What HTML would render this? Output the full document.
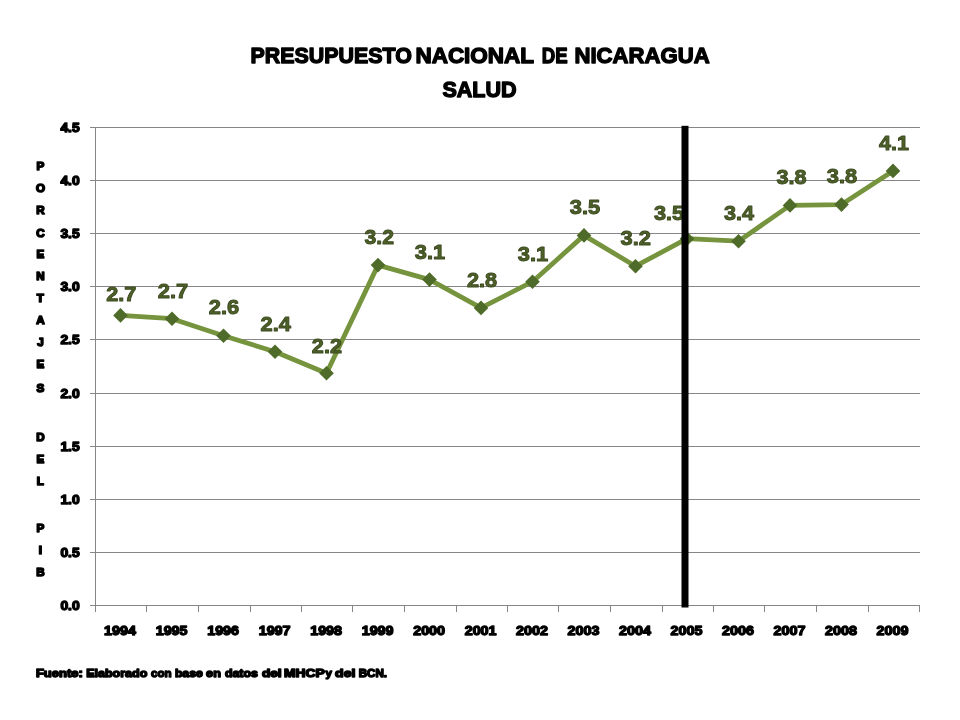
<!DOCTYPE html>
<html lang="es">
<head>
<meta charset="utf-8">
<title>Presupuesto Nacional de Nicaragua - Salud</title>
<style>
html,body{margin:0;padding:0;background:#fff;}
body{width:960px;height:720px;overflow:hidden;font-family:"Liberation Sans",sans-serif;}
svg{display:block;}
text{font-family:"Liberation Sans",sans-serif;font-weight:bold;}
.t{fill:#000;stroke:#000;stroke-width:1.4px;stroke-linejoin:round;}
.f{fill:#000;stroke:#000;stroke-width:1.4px;stroke-linejoin:round;}
.yl{fill:#000;stroke:#000;stroke-width:1.6px;stroke-linejoin:round;}
.ax{fill:#000;stroke:#000;stroke-width:1.3px;stroke-linejoin:round;}
.dl{fill:#4F6228;stroke:#3c4a20;stroke-width:1px;stroke-linejoin:round;}
</style>
</head>
<body>
<svg width="960" height="720" viewBox="0 0 960 720">
<rect x="0" y="0" width="960" height="720" fill="#ffffff"/>
<text class="t" y="63" font-size="22.5"><tspan x="250.5" textLength="161.4" lengthAdjust="spacingAndGlyphs">PRESUPUESTO</tspan> <tspan x="415.4" textLength="118.3" lengthAdjust="spacingAndGlyphs">NACIONAL</tspan> <tspan x="541.7" textLength="25.9" lengthAdjust="spacingAndGlyphs">DE</tspan> <tspan x="574.5" textLength="135.1" lengthAdjust="spacingAndGlyphs">NICARAGUA</tspan></text>
<text class="t" y="97" font-size="22.5"><tspan x="442.4" textLength="74.3" lengthAdjust="spacingAndGlyphs">SALUD</tspan></text>
<g stroke="#868686" stroke-width="1" shape-rendering="crispEdges">
<line x1="90" y1="605.5" x2="920" y2="605.5"/>
<line x1="90" y1="552.5" x2="920" y2="552.5"/>
<line x1="90" y1="499.5" x2="920" y2="499.5"/>
<line x1="90" y1="446.5" x2="920" y2="446.5"/>
<line x1="90" y1="393.5" x2="920" y2="393.5"/>
<line x1="90" y1="339.5" x2="920" y2="339.5"/>
<line x1="90" y1="286.5" x2="920" y2="286.5"/>
<line x1="90" y1="233.5" x2="920" y2="233.5"/>
<line x1="90" y1="180.5" x2="920" y2="180.5"/>
<line x1="90" y1="127.5" x2="920" y2="127.5"/>
<line x1="95.5" y1="127.5" x2="95.5" y2="612"/>
<line x1="146.5" y1="605" x2="146.5" y2="612"/>
<line x1="198.5" y1="605" x2="198.5" y2="612"/>
<line x1="250.5" y1="605" x2="250.5" y2="612"/>
<line x1="301.5" y1="605" x2="301.5" y2="612"/>
<line x1="352.5" y1="605" x2="352.5" y2="612"/>
<line x1="404.5" y1="605" x2="404.5" y2="612"/>
<line x1="456.5" y1="605" x2="456.5" y2="612"/>
<line x1="507.5" y1="605" x2="507.5" y2="612"/>
<line x1="558.5" y1="605" x2="558.5" y2="612"/>
<line x1="610.5" y1="605" x2="610.5" y2="612"/>
<line x1="662.5" y1="605" x2="662.5" y2="612"/>
<line x1="713.5" y1="605" x2="713.5" y2="612"/>
<line x1="764.5" y1="605" x2="764.5" y2="612"/>
<line x1="816.5" y1="605" x2="816.5" y2="612"/>
<line x1="868.5" y1="605" x2="868.5" y2="612"/>
<line x1="919.5" y1="605" x2="919.5" y2="612"/>
</g>
<text class="ax" x="79.7" y="610.0" font-size="12.3" text-anchor="end" textLength="19.3" lengthAdjust="spacingAndGlyphs">0.0</text>
<text class="ax" x="79.7" y="556.9" font-size="12.3" text-anchor="end" textLength="19.3" lengthAdjust="spacingAndGlyphs">0.5</text>
<text class="ax" x="79.7" y="503.8" font-size="12.3" text-anchor="end" textLength="19.3" lengthAdjust="spacingAndGlyphs">1.0</text>
<text class="ax" x="79.7" y="450.7" font-size="12.3" text-anchor="end" textLength="19.3" lengthAdjust="spacingAndGlyphs">1.5</text>
<text class="ax" x="79.7" y="397.6" font-size="12.3" text-anchor="end" textLength="19.3" lengthAdjust="spacingAndGlyphs">2.0</text>
<text class="ax" x="79.7" y="344.4" font-size="12.3" text-anchor="end" textLength="19.3" lengthAdjust="spacingAndGlyphs">2.5</text>
<text class="ax" x="79.7" y="291.3" font-size="12.3" text-anchor="end" textLength="19.3" lengthAdjust="spacingAndGlyphs">3.0</text>
<text class="ax" x="79.7" y="238.2" font-size="12.3" text-anchor="end" textLength="19.3" lengthAdjust="spacingAndGlyphs">3.5</text>
<text class="ax" x="79.7" y="185.1" font-size="12.3" text-anchor="end" textLength="19.3" lengthAdjust="spacingAndGlyphs">4.0</text>
<text class="ax" x="79.7" y="132.0" font-size="12.3" text-anchor="end" textLength="19.3" lengthAdjust="spacingAndGlyphs">4.5</text>
<text class="ax" x="120.0" y="635.3" font-size="12.4" text-anchor="middle" textLength="31.8" lengthAdjust="spacingAndGlyphs">1994</text>
<text class="ax" x="171.6" y="635.3" font-size="12.4" text-anchor="middle" textLength="31.8" lengthAdjust="spacingAndGlyphs">1995</text>
<text class="ax" x="223.1" y="635.3" font-size="12.4" text-anchor="middle" textLength="31.8" lengthAdjust="spacingAndGlyphs">1996</text>
<text class="ax" x="274.6" y="635.3" font-size="12.4" text-anchor="middle" textLength="31.8" lengthAdjust="spacingAndGlyphs">1997</text>
<text class="ax" x="326.1" y="635.3" font-size="12.4" text-anchor="middle" textLength="31.8" lengthAdjust="spacingAndGlyphs">1998</text>
<text class="ax" x="377.6" y="635.3" font-size="12.4" text-anchor="middle" textLength="31.8" lengthAdjust="spacingAndGlyphs">1999</text>
<text class="ax" x="429.1" y="635.3" font-size="12.4" text-anchor="middle" textLength="31.8" lengthAdjust="spacingAndGlyphs">2000</text>
<text class="ax" x="480.6" y="635.3" font-size="12.4" text-anchor="middle" textLength="31.8" lengthAdjust="spacingAndGlyphs">2001</text>
<text class="ax" x="532.0" y="635.3" font-size="12.4" text-anchor="middle" textLength="31.8" lengthAdjust="spacingAndGlyphs">2002</text>
<text class="ax" x="583.5" y="635.3" font-size="12.4" text-anchor="middle" textLength="31.8" lengthAdjust="spacingAndGlyphs">2003</text>
<text class="ax" x="635.0" y="635.3" font-size="12.4" text-anchor="middle" textLength="31.8" lengthAdjust="spacingAndGlyphs">2004</text>
<text class="ax" x="686.5" y="635.3" font-size="12.4" text-anchor="middle" textLength="31.8" lengthAdjust="spacingAndGlyphs">2005</text>
<text class="ax" x="738.0" y="635.3" font-size="12.4" text-anchor="middle" textLength="31.8" lengthAdjust="spacingAndGlyphs">2006</text>
<text class="ax" x="789.5" y="635.3" font-size="12.4" text-anchor="middle" textLength="31.8" lengthAdjust="spacingAndGlyphs">2007</text>
<text class="ax" x="841.0" y="635.3" font-size="12.4" text-anchor="middle" textLength="31.8" lengthAdjust="spacingAndGlyphs">2008</text>
<text class="ax" x="892.5" y="635.3" font-size="12.4" text-anchor="middle" textLength="31.8" lengthAdjust="spacingAndGlyphs">2009</text>
<text class="yl" x="40.4" y="170.0" font-size="11.6" text-anchor="middle">P</text>
<text class="yl" x="40.4" y="192.0" font-size="11.6" text-anchor="middle">O</text>
<text class="yl" x="40.4" y="214.2" font-size="11.6" text-anchor="middle">R</text>
<text class="yl" x="40.4" y="236.5" font-size="11.6" text-anchor="middle">C</text>
<text class="yl" x="40.4" y="257.9" font-size="11.6" text-anchor="middle">E</text>
<text class="yl" x="40.4" y="279.9" font-size="11.6" text-anchor="middle">N</text>
<text class="yl" x="40.4" y="301.9" font-size="11.6" text-anchor="middle">T</text>
<text class="yl" x="40.4" y="323.9" font-size="11.6" text-anchor="middle">A</text>
<text class="yl" x="40.4" y="345.9" font-size="11.6" text-anchor="middle">J</text>
<text class="yl" x="40.4" y="367.9" font-size="11.6" text-anchor="middle">E</text>
<text class="yl" x="40.4" y="391.7" font-size="11.6" text-anchor="middle">S</text>
<text class="yl" x="40.4" y="441.2" font-size="11.6" text-anchor="middle">D</text>
<text class="yl" x="40.4" y="462.9" font-size="11.6" text-anchor="middle">E</text>
<text class="yl" x="40.4" y="484.9" font-size="11.6" text-anchor="middle">L</text>
<text class="yl" x="40.4" y="532.0" font-size="11.6" text-anchor="middle">P</text>
<text class="yl" x="40.4" y="553.9" font-size="11.6" text-anchor="middle">I</text>
<text class="yl" x="40.4" y="576.2" font-size="11.6" text-anchor="middle">B</text>
<polyline points="120.5,315.4 172.0,318.7 223.5,335.7 275.0,351.7 326.5,373.2 378.0,265.1 429.5,279.6 481.0,307.9 532.5,281.7 584.0,235.4 635.5,266.2 687.0,238.7 738.5,241.2 790.0,205.4 841.5,204.6 893.0,170.9" fill="none" stroke="#76933D" stroke-width="4.8" stroke-linejoin="round" stroke-linecap="round"/>
<path d="M120.5 308.1 L127.8 315.4 L120.5 322.7 L113.2 315.4 Z" fill="#4F6B29"/>
<path d="M172.0 311.4 L179.3 318.7 L172.0 326.0 L164.7 318.7 Z" fill="#4F6B29"/>
<path d="M223.5 328.4 L230.8 335.7 L223.5 343.0 L216.2 335.7 Z" fill="#4F6B29"/>
<path d="M275.0 344.4 L282.3 351.7 L275.0 359.0 L267.7 351.7 Z" fill="#4F6B29"/>
<path d="M326.5 365.9 L333.8 373.2 L326.5 380.5 L319.2 373.2 Z" fill="#4F6B29"/>
<path d="M378.0 257.8 L385.3 265.1 L378.0 272.4 L370.7 265.1 Z" fill="#4F6B29"/>
<path d="M429.5 272.3 L436.8 279.6 L429.5 286.9 L422.2 279.6 Z" fill="#4F6B29"/>
<path d="M481.0 300.6 L488.3 307.9 L481.0 315.2 L473.7 307.9 Z" fill="#4F6B29"/>
<path d="M532.5 274.4 L539.8 281.7 L532.5 289.0 L525.2 281.7 Z" fill="#4F6B29"/>
<path d="M584.0 228.1 L591.3 235.4 L584.0 242.7 L576.7 235.4 Z" fill="#4F6B29"/>
<path d="M635.5 258.9 L642.8 266.2 L635.5 273.5 L628.2 266.2 Z" fill="#4F6B29"/>
<path d="M687.0 231.4 L694.3 238.7 L687.0 246.0 L679.7 238.7 Z" fill="#4F6B29"/>
<path d="M738.5 233.9 L745.8 241.2 L738.5 248.5 L731.2 241.2 Z" fill="#4F6B29"/>
<path d="M790.0 198.1 L797.3 205.4 L790.0 212.7 L782.7 205.4 Z" fill="#4F6B29"/>
<path d="M841.5 197.3 L848.8 204.6 L841.5 211.9 L834.2 204.6 Z" fill="#4F6B29"/>
<path d="M893.0 163.6 L900.3 170.9 L893.0 178.2 L885.7 170.9 Z" fill="#4F6B29"/>
<text class="dl" x="121.2" y="301.3" font-size="21" text-anchor="middle" textLength="30.1" lengthAdjust="spacingAndGlyphs">2.7</text>
<text class="dl" x="173.0" y="298.3" font-size="21" text-anchor="middle" textLength="30.4" lengthAdjust="spacingAndGlyphs">2.7</text>
<text class="dl" x="224.0" y="314.3" font-size="21" text-anchor="middle" textLength="30.4" lengthAdjust="spacingAndGlyphs">2.6</text>
<text class="dl" x="275.8" y="331.3" font-size="21" text-anchor="middle" textLength="30.4" lengthAdjust="spacingAndGlyphs">2.4</text>
<text class="dl" x="326.9" y="353.3" font-size="21" text-anchor="middle" textLength="30.1" lengthAdjust="spacingAndGlyphs">2.2</text>
<text class="dl" x="379.2" y="243.8" font-size="21" text-anchor="middle" textLength="29.4" lengthAdjust="spacingAndGlyphs">3.2</text>
<text class="dl" x="430.0" y="259.3" font-size="21" text-anchor="middle" textLength="30.4" lengthAdjust="spacingAndGlyphs">3.1</text>
<text class="dl" x="482.1" y="287.1" font-size="21" text-anchor="middle" textLength="30.2" lengthAdjust="spacingAndGlyphs">2.8</text>
<text class="dl" x="533.0" y="260.9" font-size="21" text-anchor="middle" textLength="30.4" lengthAdjust="spacingAndGlyphs">3.1</text>
<text class="dl" x="585.0" y="214.3" font-size="21" text-anchor="middle" textLength="30.4" lengthAdjust="spacingAndGlyphs">3.5</text>
<text class="dl" x="635.8" y="244.9" font-size="21" text-anchor="middle" textLength="30.4" lengthAdjust="spacingAndGlyphs">3.2</text>
<text class="dl" x="669.1" y="220.1" font-size="21" text-anchor="middle" textLength="30.2" lengthAdjust="spacingAndGlyphs">3.5</text>
<text class="dl" x="739.0" y="220.4" font-size="21" text-anchor="middle" textLength="30.0" lengthAdjust="spacingAndGlyphs">3.4</text>
<text class="dl" x="791.5" y="184.1" font-size="21" text-anchor="middle" textLength="30.0" lengthAdjust="spacingAndGlyphs">3.8</text>
<text class="dl" x="842.0" y="183.3" font-size="21" text-anchor="middle" textLength="30.4" lengthAdjust="spacingAndGlyphs">3.8</text>
<text class="dl" x="894.0" y="150.4" font-size="21" text-anchor="middle" textLength="29.9" lengthAdjust="spacingAndGlyphs">4.1</text>
<rect x="681.5" y="125.8" width="7" height="481.7" fill="#000"/>
<text class="f" y="677.0" font-size="11.0"><tspan x="35.9" textLength="46.9" lengthAdjust="spacingAndGlyphs">Fuente:</tspan> <tspan x="86.2" textLength="61.1" lengthAdjust="spacingAndGlyphs">Elaborado</tspan> <tspan x="151.1" textLength="20.5" lengthAdjust="spacingAndGlyphs">con</tspan> <tspan x="174.9" textLength="27.9" lengthAdjust="spacingAndGlyphs">base</tspan> <tspan x="206.1" textLength="14.8" lengthAdjust="spacingAndGlyphs">en</tspan> <tspan x="224.9" textLength="32.9" lengthAdjust="spacingAndGlyphs">datos</tspan> <tspan x="261.9" textLength="19.8" lengthAdjust="spacingAndGlyphs">del</tspan> <tspan x="284.1" textLength="40.3" lengthAdjust="spacingAndGlyphs">MHCP</tspan> <tspan x="325.6" textLength="6.4" lengthAdjust="spacingAndGlyphs">y</tspan> <tspan x="335.1" textLength="20.2" lengthAdjust="spacingAndGlyphs">del</tspan> <tspan x="358.7" textLength="28.4" lengthAdjust="spacingAndGlyphs">BCN.</tspan></text>
</svg>
</body>
</html>
